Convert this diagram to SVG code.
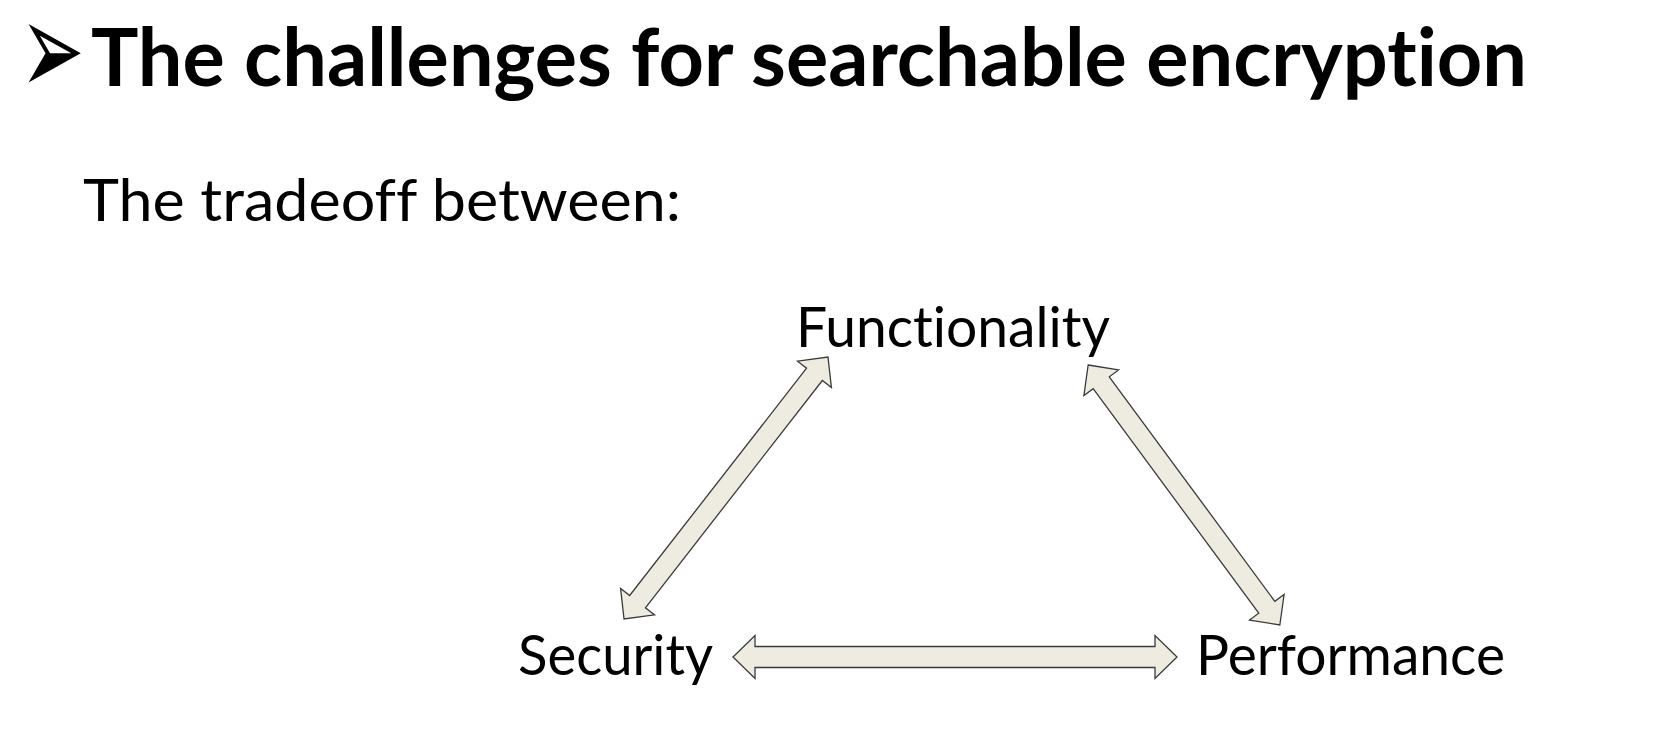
<svg xmlns="http://www.w3.org/2000/svg" width="1677" height="731" viewBox="0 0 1677 731">
<style>
.t{font-family:Lato,"Open Sans","Liberation Sans",sans-serif;fill:#000;font-variant-ligatures:none;font-feature-settings:"liga" 0,"clig" 0}
.title{font-weight:bold;font-size:80px}
.body{font-size:58px}
.lbl{font-size:56px}
.arr{fill:#eeece1;stroke:#3a3a3a;stroke-width:1.3;stroke-linejoin:miter}
</style>
<rect width="1677" height="731" fill="#fff"/>
<g id="title">
<text transform="translate(20,95) scale(1.1,1.9)" x="0" y="0" font-family="DejaVu Sans,sans-serif" font-size="70">➢</text>
<text class="t title" x="91" y="86" textLength="1436" lengthAdjust="spacingAndGlyphs">The challenges for searchable encryption</text>
</g>
<g id="subtitle">
<text class="t body" x="83" y="221" textLength="598" lengthAdjust="spacingAndGlyphs">The tradeoff between:</text>
</g>
<g id="functionality">
<text class="t lbl" x="796" y="347" textLength="314" lengthAdjust="spacingAndGlyphs">Functionality</text>
</g>
<g id="security">
<text class="t lbl" x="518" y="675" textLength="195" lengthAdjust="spacingAndGlyphs">Security</text>
</g>
<g id="performance">
<text class="t lbl" x="1196" y="675" textLength="309" lengthAdjust="spacingAndGlyphs">Performance</text>
</g>
<g id="connectors">
<path class="arr" transform="translate(726,488) rotate(-52.1)" d="M-166,0 L-144,-21.5 L-144,-10 L144,-10 L144,-21.5 L166,0 L144,21.5 L144,10 L-144,10 L-144,21.5 Z"/>
<path class="arr" transform="translate(1184,495) rotate(53.6)" d="M-161.5,0 L-139.5,-21.5 L-139.5,-10 L139.5,-10 L139.5,-21.5 L161.5,0 L139.5,21.5 L139.5,10 L-139.5,10 L-139.5,21.5 Z"/>
<path class="arr" transform="translate(955,657)" d="M-222,0 L-200,-21.5 L-200,-10.5 L200,-10.5 L200,-21.5 L222,0 L200,21.5 L200,10.5 L-200,10.5 L-200,21.5 Z"/>
</g>
</svg>
